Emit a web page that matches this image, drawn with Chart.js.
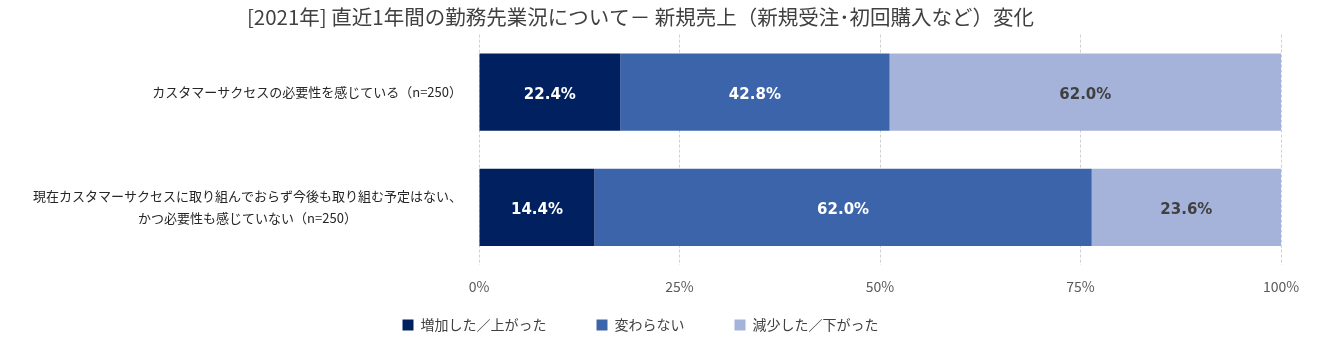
<!DOCTYPE html>
<html>
<head>
<meta charset="utf-8">
<script src="https://cdn.jsdelivr.net/npm/chart.js@4/dist/chart.umd.min.js"></script>
<style>
  html, body { margin: 0; padding: 0; background: #fff; }
  #wrap { width: 1330px; height: 353px; }
</style>
</head>
<body>
<div id="wrap"><canvas id="chart_work"></canvas></div>
<script>
// categories (multi-line labels as arrays)
var categories = [
    ['カスタマーサクセスの必要性を感じている（n=250）'],
    ['現在カスタマーサクセスに取り組んでおらず今後も取り組む予定はない、', 'かつ必要性も感じていない（n=250）']
];
var seriesNames = ['増加した／上がった', '変わらない', '減少した／下がった'];

// bar lengths as drawn in the picture
var increased = [17.6, 14.4];
var unchanged = [33.6, 62.0];
var decreased = [48.8, 23.6];

// numbers printed on the bars
var increasedText = [22.4, 14.4];
var unchangedText = [42.8, 62.0];
var decreasedText = [62.0, 23.6];

var xTicks = [0, 25, 50, 75, 100];

var jpFont = "'Noto Sans CJK JP', 'Noto Sans', sans-serif";

// draws the percentages inside each segment
var barTextPlugin = {
    id: 'barText',
    afterDatasetsDraw: function (chart) {
        var ctx = chart.ctx;
        var texts = [increasedText, unchangedText, decreasedText];
        var colors = ['#ffffff', '#ffffff', '#404040'];
        ctx.save();
        ctx.font = "bold 15px 'DejaVu Sans', Verdana, sans-serif";
        ctx.textAlign = 'center';
        ctx.textBaseline = 'middle';
        chart.data.datasets.forEach(function (ds, i) {
            var meta = chart.getDatasetMeta(i);
            meta.data.forEach(function (bar, j) {
                ctx.fillStyle = colors[i];
                ctx.fillText(texts[i][j].toFixed(1) + '%', (bar.x + bar.base) / 2, bar.y + 3);
            });
        });
        ctx.restore();
    }
};

// category labels: block right-aligned, lines centred within the block
var categoryTextPlugin = {
    id: 'categoryText',
    afterDraw: function (chart) {
        var ctx = chart.ctx;
        var yScale = chart.scales.y;
        var right = chart.chartArea.left - 17;
        var lineH = 22;
        ctx.save();
        ctx.font = '13px ' + jpFont;
        ctx.fillStyle = '#262626';
        ctx.textAlign = 'center';
        ctx.textBaseline = 'middle';
        categories.forEach(function (lines, i) {
            var cy = yScale.getPixelForTick(i);
            var maxW = 0;
            lines.forEach(function (l) { maxW = Math.max(maxW, ctx.measureText(l).width); });
            var cx = right - maxW / 2;
            var y0 = cy - (lines.length - 1) * lineH / 2;
            lines.forEach(function (l, k) {
                ctx.fillText(l, cx, y0 + k * lineH);
            });
        });
        ctx.restore();
    }
};

// the wide item gap also pads the legend vertically, pull it back up
var legendShiftPlugin = {
    id: 'legendShift',
    afterLayout: function (chart) {
        var lg = chart.legend;
        var shift = (lg.top + 50 + 7) - 325;
        lg.top -= shift;
        lg.bottom -= shift;
    }
};

(function chart() {
    'use strict';
    var ctx = document.getElementById('chart_work').getContext('2d');
    new Chart(ctx, {
        type: 'bar',
        data: {
            labels: categories,
            datasets: [{
                label: seriesNames[0],
                data: increased,
                backgroundColor: '#002060'
            }, {
                label: seriesNames[1],
                data: unchanged,
                backgroundColor: '#3C64AB'
            }, {
                label: seriesNames[2],
                data: decreased,
                backgroundColor: '#A5B3DB'
            }]
        },
        options: {
            indexAxis: 'y',
            responsive: true,
            maintainAspectRatio: false,
            animation: false,
            layout: {
                padding: { left: 0, right: 49, top: 0, bottom: -16 }
            },
            datasets: {
                bar: {
                    barPercentage: 0.67,
                    categoryPercentage: 1.0,
                    borderWidth: 0
                }
            },
            scales: {
                x: {
                    stacked: true,
                    min: 0,
                    max: 100,
                    afterBuildTicks: function (scale) {
                        scale.ticks = xTicks.map(function (v) { return { value: v }; });
                    },
                    afterFit: function (scale) {
                        scale.height = 30;
                    },
                    grid: {
                        color: '#D0D0D0',
                        lineWidth: 1,
                        drawTicks: false
                    },
                    border: { display: false, dash: [3, 2] },
                    ticks: {
                        padding: 13,
                        color: '#595959',
                        font: { family: jpFont, size: 14 },
                        callback: function (v) { return v + '%'; }
                    }
                },
                y: {
                    stacked: true,
                    afterFit: function (scale) {
                        scale.width = 479;
                    },
                    grid: { display: false, drawTicks: false },
                    border: { display: false },
                    ticks: { display: false }
                }
            },
            plugins: {
                title: {
                    display: true,
                    text: '[2021年] 直近1年間の勤務先業況について－ 新規売上（新規受注･初回購入など）変化',
                    color: '#404040',
                    font: { family: jpFont, size: 20.5, weight: 'normal' },
                    padding: { top: 5, bottom: 5 }
                },
                legend: {
                    position: 'bottom',
                    labels: {
                        boxWidth: 11,
                        boxHeight: 11,
                        padding: 50,
                        color: '#404040',
                        font: { family: jpFont, size: 14 }
                    }
                },
                tooltip: { enabled: false }
            }
        },
        plugins: [barTextPlugin, categoryTextPlugin, legendShiftPlugin]
    });
})();
</script>
</body>
</html>
